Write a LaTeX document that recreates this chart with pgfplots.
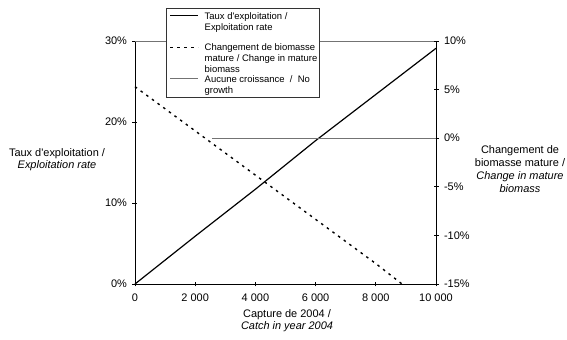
\documentclass[border=0pt]{standalone}
\usepackage{pgfplots}
\pgfplotsset{compat=1.18}
\usepackage{fontspec}
\setmainfont{Liberation Sans}
\pgfplotsset{lowimg/.style={legend image code/.code={\draw[##1, yshift=-15.6bp] (4bp,0bp) -- (32bp,0bp);}}}
\begin{document}
\begin{tikzpicture}
\path[use as bounding box] (-135bp,-56bp) rectangle (432bp,284bp);
\begin{axis}[
  scale only axis, width=301bp, height=243bp,
  xmin=0, xmax=10000, ymin=0, ymax=30,
  axis lines=left, axis line style={-, black, line width=0.8bp},
  clip=false, scaled x ticks=false,
  tick align=center, major tick length=5bp,
  tick style={black, line width=0.7bp},
  xtick={0,2000,4000,6000,8000,10000},
  xticklabels={0,2 000,4 000,6 000,8 000,10 000},
  ytick={0,10,20,30},
  yticklabels={0\%,10\%,20\%,30\%},
  ticklabel style={font=\fontsize{11}{12}\selectfont},
  x tick label style={yshift=-4bp},
  y tick label style={xshift=-2bp},
]
\draw[black!55, line width=0.8bp] (rel axis cs:0,1) -- (rel axis cs:1,1);
\addplot[black, line width=1.2bp] coordinates {(0,0) (2000,5.9) (4000,11.7) (6000,17.7) (8000,23.4) (10000,29.1)};
\node[align=center, font=\fontsize{11}{12}\selectfont] at (rel axis cs:0,0.512) [xshift=-78bp] {Taux d\textquotesingle exploitation /\\\textit{Exploitation rate}};
\node[align=center, font=\fontsize{11}{12}\selectfont, anchor=north] at (rel axis cs:0.505,0) [yshift=-22bp] {Capture de 2004 /\\\textit{Catch in year 2004}};
\end{axis}
\begin{axis}[
  scale only axis, width=301bp, height=243bp,
  xmin=0, xmax=10000, ymin=-15, ymax=10,
  axis x line=none, axis y line*=right, axis line style={-, black, line width=0.8bp},
  clip=false,
  tick align=center, major tick length=5bp,
  tick style={black, line width=0.7bp},
  ytick={-15,-10,-5,0,5,10},
  yticklabels={-15\%,-10\%,-5\%,0\%,5\%,10\%},
  ticklabel style={font=\fontsize{11}{12}\selectfont},
  y tick label style={xshift=2bp},
  legend style={at={(rel axis cs:0.103,1.136)}, anchor=north west,
    draw=black!80, line width=0.6bp, fill=white, inner xsep=3bp, inner ysep=3bp,
    font=\fontsize{9.5}{11}\selectfont, row sep=0bp, column sep=5bp,
    nodes={anchor=north west, align=left, inner xsep=1bp, inner ysep=0bp}},
  legend image code/.code={\draw[#1, yshift=-4.6bp] (4bp,0bp) -- (32bp,0bp);},
]
\addlegendimage{black, line width=1.2bp}
\addlegendentry{\strut Taux d\textquotesingle exploitation /\\Exploitation rate\strut}
\addplot[black, line width=1.4bp, dash pattern=on 2.5bp off 4.5bp, lowimg]
  coordinates {(0,5.3) (2000,0.75) (4000,-3.8) (6000,-8.35) (8000,-12.9) (8870,-15)};
\addlegendentry{\rule{0pt}{18.7bp}Changement de biomasse\\\makebox[109bp][l]{mature / Change in mature}\\biomass\strut}
\addplot[black!55, line width=1bp] coordinates {(2550,0) (10000,0)};
\addlegendentry{\strut Aucune croissance~~/~~No\\growth\strut}
\node[align=center, font=\fontsize{11}{13}\selectfont] at (rel axis cs:1,0.473) [xshift=84bp] {Changement de\\biomasse mature /\\\textit{Change in mature}\\\textit{biomass}};
\end{axis}
\end{tikzpicture}
\end{document}
